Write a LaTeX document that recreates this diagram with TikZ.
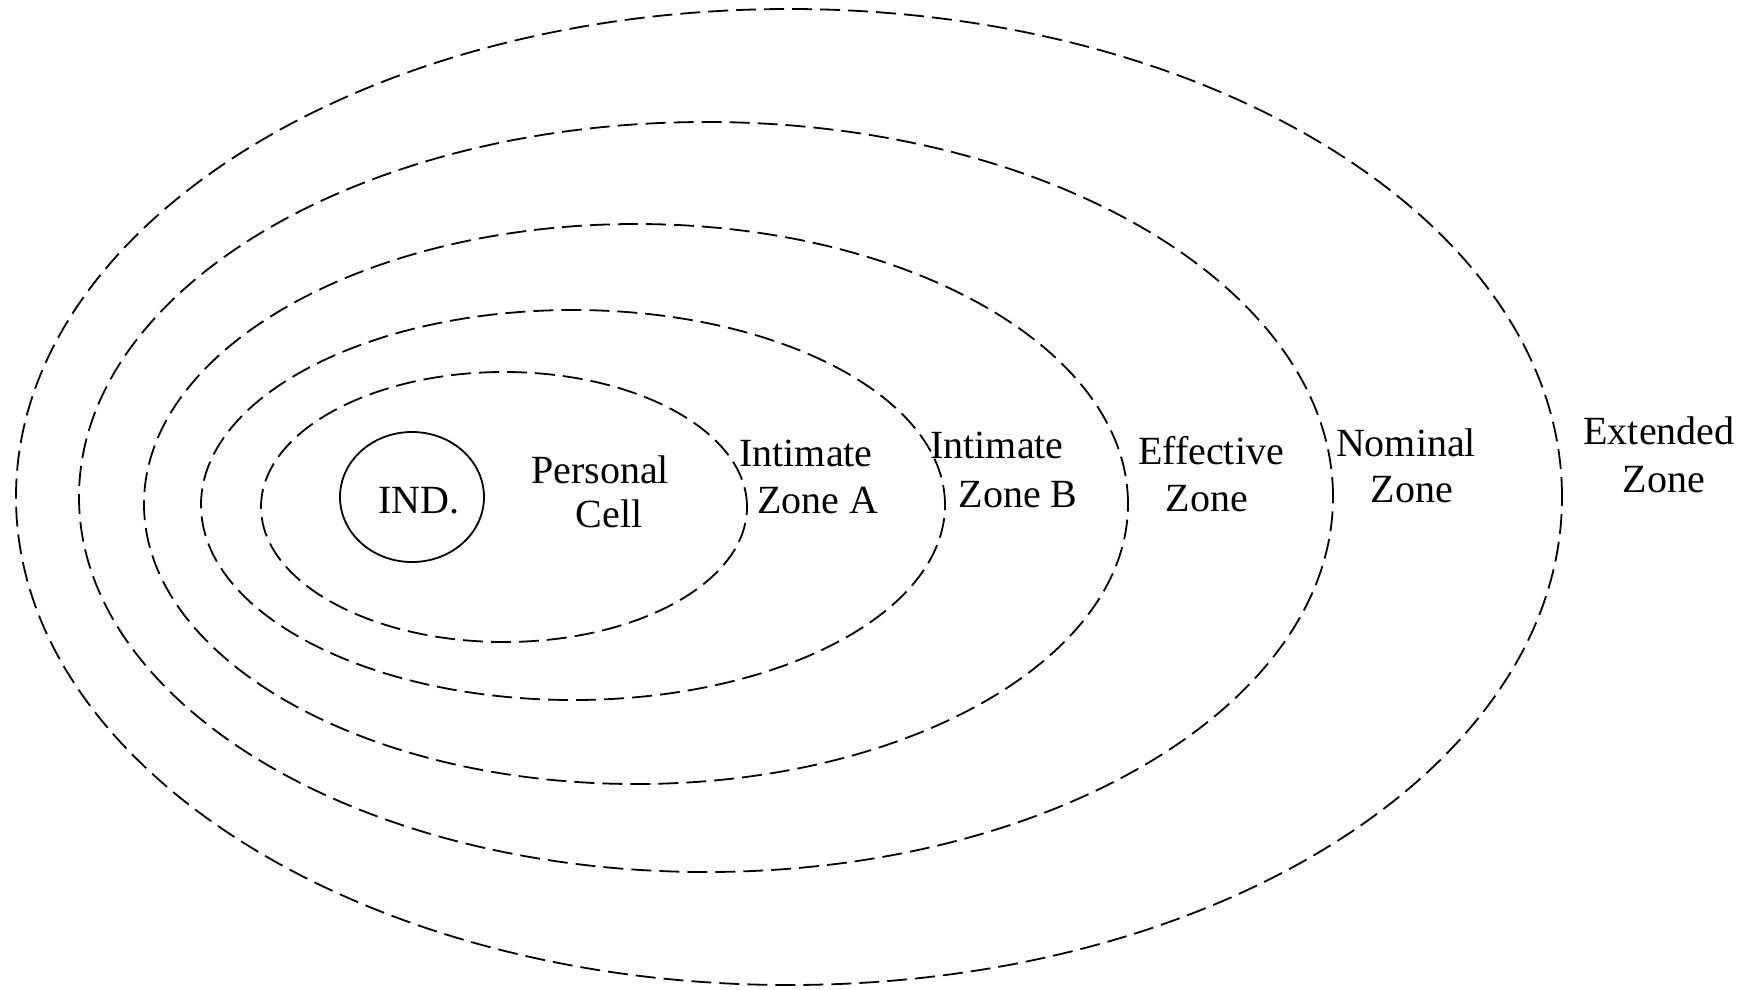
\documentclass[tikz,border=0pt]{standalone}
\usepackage{fontspec}
\setmainfont{Liberation Serif}
\tikzset{
  zone/.style={draw=black, line width=1.8pt, dash pattern=on 20pt off 8pt},
  indcircle/.style={draw=black, line width=1.8pt},
  lbl/.style={anchor=base, inner sep=0pt, font=\fontsize{40}{46}\selectfont}
}
\begin{document}
\begin{tikzpicture}[x=1pt, y=-1pt]
\useasboundingbox[fill=white] (0,0) rectangle (1748,989);
% zones
\draw[zone] (789,497) ellipse [x radius=773pt, y radius=488pt];
\draw[zone] (706,497) ellipse [x radius=627pt, y radius=375pt];
\draw[zone] (636,504) ellipse [x radius=492pt, y radius=280pt];
\draw[zone] (573,505) ellipse [x radius=372pt, y radius=195pt];
\draw[zone] (504,507) ellipse [x radius=243pt, y radius=135pt];
\draw[indcircle] (412,497) ellipse [x radius=72pt, y radius=65pt];
% labels
\node[lbl] (ind) at (419,513) {IND.};
\node[lbl] (pc1) at (600,483) {Personal};
\node[lbl] (pc2) at (609,527) {Cell};
\node[lbl] (ia1) at (806,466) {Intimate};
\node[lbl] (ia2) at (818,513) {Zone A};
\node[lbl] (ib1) at (997,458) {Intimate};
\node[lbl] (ib2) at (1018,507) {Zone B};
\node[lbl] (ef1) at (1211,464) {Effective};
\node[lbl] (ef2) at (1207,511) {Zone};
\node[lbl] (nm1) at (1406,456) {Nominal};
\node[lbl] (nm2) at (1412,502) {Zone};
\node[lbl] (ex1) at (1659,444) {Extended};
\node[lbl] (ex2) at (1664,492) {Zone};
\end{tikzpicture}
\end{document}
